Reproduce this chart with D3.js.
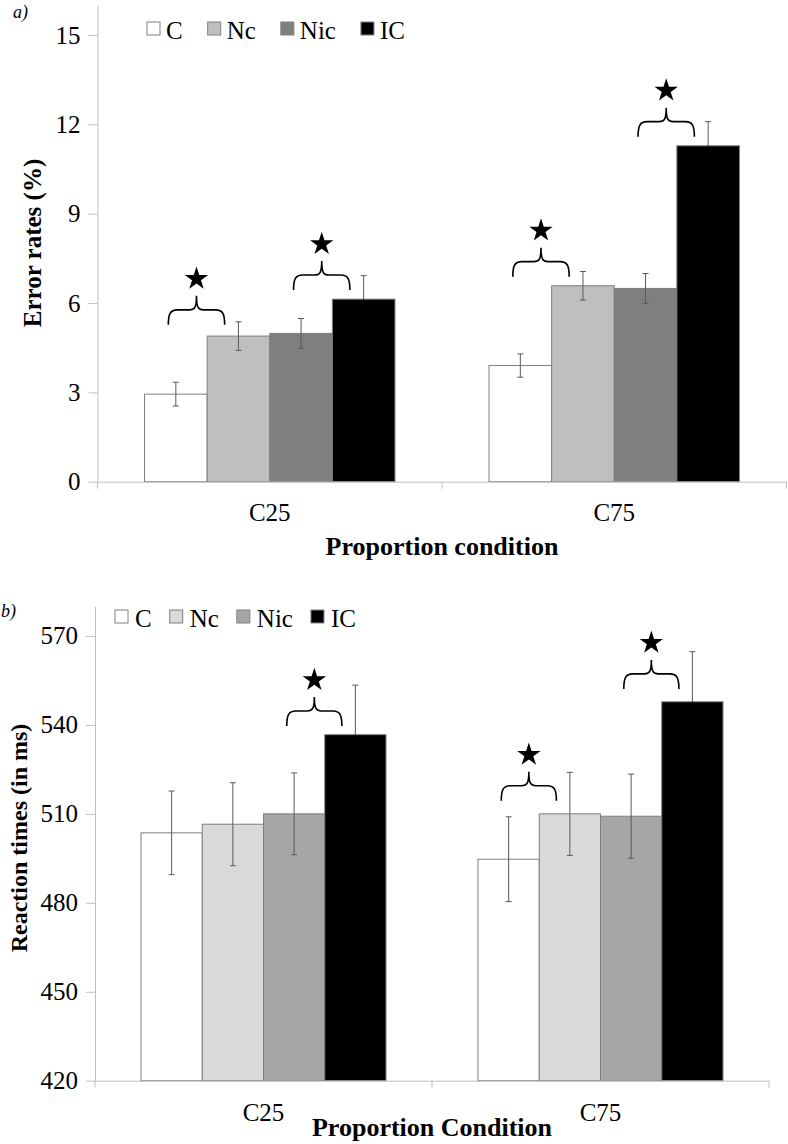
<!DOCTYPE html>
<html>
<head>
<meta charset="utf-8">
<script src="https://cdn.jsdelivr.net/npm/d3@7"></script>
<style>
  html, body { margin: 0; padding: 0; background: #fff; }
  svg { display: block; }
  text { font-family: "Liberation Serif", "Times New Roman", serif; fill: #000; }
</style>
</head>
<body>
<svg id="chart" width="788" height="1144"></svg>
<script>
// ---------- DATA ----------
const categories = ["C25", "C75"];
const series = ["C", "Nc", "Nic", "IC"];

// Panel a: error rates (%)
const errMeansC25 = [2.94, 4.89, 4.98, 6.13];
const errMeansC75 = [3.90, 6.58, 6.49, 11.28];
const errSeC25 = [0.40, 0.48, 0.50, 0.79];
const errSeC75 = [0.39, 0.48, 0.50, 0.81];
const errTicks = [0, 3, 6, 9, 12, 15];
// significance brackets: [category, from series, to series, bracket level]
const errBrackets = [
  ["C25", "C", "Nc", 5.77],
  ["C25", "Nic", "IC", 6.94],
  ["C75", "C", "Nc", 7.39],
  ["C75", "Nic", "IC", 12.09]
];

// Panel b: reaction times (ms)
const rtMeansC25 = [503.6, 506.5, 510.0, 536.7];
const rtMeansC75 = [494.7, 510.0, 509.2, 547.8];
const rtSeC25 = [14.1, 14.0, 13.8, 16.7];
const rtSeC75 = [14.3, 14.0, 14.2, 16.9];
const rtTicks = [420, 450, 480, 510, 540, 570];
const rtBrackets = [
  ["C25", "Nic", "IC", 544.7],
  ["C75", "C", "Nc", 519.5],
  ["C75", "Nic", "IC", 557.2]
];

// ---------- STYLE ----------
const colorsA = ["#ffffff", "#bfbfbf", "#7f7f7f", "#000000"];
const colorsB = ["#ffffff", "#d9d9d9", "#a6a6a6", "#000000"];
const axisColor = "#bfbfbf";
const barStroke = "#7f7f7f";
const errColor = "#595959";
const serif = "Liberation Serif, Times New Roman, serif";

const svg = d3.select("#chart");
svg.append("rect").attr("width", 788).attr("height", 1144).attr("fill", "#fff");

function bracePath(x1, x2, yT) {
  const h = 15, p = 14, xm = (x1 + x2) / 2;
  return `M${x1},${yT + h} C${x1},${yT + 4} ${x1 + 2},${yT} ${x1 + 9},${yT}` +
         ` L${xm - 7},${yT} C${xm - 2},${yT} ${xm},${yT - 2} ${xm},${yT - p}` +
         ` C${xm},${yT - 2} ${xm + 2},${yT} ${xm + 7},${yT}` +
         ` L${x2 - 9},${yT} C${x2 - 2},${yT} ${x2},${yT + 4} ${x2},${yT + h}`;
}

function drawPanel(o) {
  const g = svg.append("g");
  const x = d3.scaleBand().domain(categories).range([o.x0, o.x1]);
  const groupW = x.bandwidth() * 0.727;
  const xs = d3.scaleBand().domain(series).range([0, groupW]);
  const off = (x.bandwidth() - groupW) / 2;
  const y = d3.scaleLinear().domain(o.domain).range(o.yRange);
  const bx = (c, s) => x(c) + off + xs(s);
  const bc = (c, s) => bx(c, s) + xs.bandwidth() / 2;

  const data = categories.flatMap((c, ci) =>
    series.map((s, si) => ({ c, s, si, v: o.means[ci][si], e: o.ses[ci][si] })));

  // bars
  g.selectAll("rect.bar").data(data).join("rect")
    .attr("class", "bar")
    .attr("x", d => bx(d.c, d.s))
    .attr("y", d => y(d.v))
    .attr("width", xs.bandwidth())
    .attr("height", d => y(o.domain[0]) - y(d.v))
    .attr("fill", d => o.colors[d.si])
    .attr("stroke", barStroke)
    .attr("stroke-width", 1);

  // error bars
  const lowColor = d => o.colors[d.si] === "#000000" ? "#000" : errColor;
  const eg = g.selectAll("g.err").data(data).join("g").attr("class", "err")
    .attr("fill", "none").attr("stroke-width", 1);
  eg.append("line")
    .attr("x1", d => bc(d.c, d.s)).attr("x2", d => bc(d.c, d.s))
    .attr("y1", d => y(d.v)).attr("y2", d => y(d.v + d.e))
    .attr("stroke", errColor);
  eg.append("line")
    .attr("x1", d => bc(d.c, d.s)).attr("x2", d => bc(d.c, d.s))
    .attr("y1", d => y(d.v)).attr("y2", d => y(d.v - d.e))
    .attr("stroke", lowColor);
  eg.append("line")
    .attr("x1", d => bc(d.c, d.s) - 3).attr("x2", d => bc(d.c, d.s) + 3)
    .attr("y1", d => y(d.v + d.e)).attr("y2", d => y(d.v + d.e))
    .attr("stroke", errColor);
  eg.append("line")
    .attr("x1", d => bc(d.c, d.s) - 3).attr("x2", d => bc(d.c, d.s) + 3)
    .attr("y1", d => y(d.v - d.e)).attr("y2", d => y(d.v - d.e))
    .attr("stroke", lowColor);

  // y axis
  const ya = g.append("g").attr("transform", `translate(${o.x0},0)`)
    .call(d3.axisLeft(y).tickValues(o.ticks).tickSize(9).tickSizeOuter(0).tickPadding(8));
  ya.attr("font-family", serif);
  ya.select(".domain").attr("stroke", axisColor);
  ya.selectAll(".tick line").attr("stroke", axisColor);
  ya.selectAll(".tick text").attr("font-size", 25).attr("fill", "#000");

  // x axis
  const xa = g.append("g").attr("transform", `translate(0,${o.yRange[0]})`)
    .call(d3.axisBottom(x).tickSize(0).tickSizeOuter(0).tickPadding(0));
  xa.attr("font-family", serif);
  xa.select(".domain").attr("stroke", axisColor);
  xa.selectAll(".tick text").attr("font-size", 25).attr("fill", "#000")
    .attr("dy", null).attr("y", o.catDy);
  const bounds = [x.range()[0], ...categories.slice(1).map(c => x(c)), x.range()[1]];
  xa.selectAll("line.bound").data(bounds).join("line").attr("class", "bound")
    .attr("x1", d => d).attr("x2", d => d).attr("y1", 0).attr("y2", 7)
    .attr("stroke", axisColor);

  // axis titles
  g.append("text").attr("x", (o.x0 + o.x1) / 2).attr("y", o.xTitleY)
    .attr("text-anchor", "middle").attr("font-size", 26).attr("font-weight", "bold")
    .text(o.xTitle);
  g.append("text")
    .attr("transform", `translate(${o.yTitleX},${o.yTitleCy}) rotate(-90)`)
    .attr("text-anchor", "middle").attr("font-size", o.yTitleSize).attr("font-weight", "bold")
    .text(o.yTitle);

  // panel tag
  g.append("text").attr("x", o.tagX).attr("y", o.tagY)
    .attr("font-size", 18).attr("font-style", "italic").text(o.tag);

  // brackets + stars
  const bw = xs.bandwidth();
  o.brackets.forEach(([c, s1, s2, lvl]) => {
    const x1 = bc(c, s1) - 0.12 * bw, x2 = bc(c, s2) - 0.22 * bw;
    const yT = y(lvl);
    g.append("path").attr("d", bracePath(x1, x2, yT))
      .attr("fill", "none").attr("stroke", "#000").attr("stroke-width", 1.6);
    g.append("path").attr("d", d3.symbol(d3.symbolStar, 170)())
      .attr("transform", `translate(${(x1 + x2) / 2},${yT - 14 - 17})`)
      .attr("fill", "#000");
  });

  // legend
  const lg = g.append("g");
  let cx = o.legX;
  series.forEach((s, i) => {
    lg.append("rect").attr("x", cx).attr("y", o.legBase - 17).attr("width", 13).attr("height", 13)
      .attr("fill", o.colors[i]).attr("stroke", barStroke).attr("stroke-width", 1);
    const t = lg.append("text").attr("x", cx + 13 + o.legTextGap).attr("y", o.legBase)
      .attr("font-size", 25).text(s);
    cx = cx + 13 + o.legTextGap + t.node().getComputedTextLength() + o.legGap;
  });
}

drawPanel({
  x0: 97.5, x1: 786.5, domain: [0, 16], yRange: [481.7, 481.7 - 16 * 29.78],
  means: [errMeansC25, errMeansC75], ses: [errSeC25, errSeC75], ticks: errTicks,
  colors: colorsA, brackets: errBrackets,
  catDy: 39, xTitle: "Proportion condition", xTitleY: 555,
  yTitle: "Error rates (%)", yTitleX: 41, yTitleCy: 243, yTitleSize: 25,
  tag: "a)", tagX: 13, tagY: 18,
  legX: 147, legBase: 39, legTextGap: 6, legGap: 25
});

drawPanel({
  x0: 95, x1: 769, domain: [420, 580], yRange: [1080.7, 1080.7 - 160 * 2.965],
  means: [rtMeansC25, rtMeansC75], ses: [rtSeC25, rtSeC75], ticks: rtTicks,
  colors: colorsB, brackets: rtBrackets,
  catDy: 40, xTitle: "Proportion Condition", xTitleY: 1136,
  yTitle: "Reaction times (in ms)", yTitleX: 27, yTitleCy: 838, yTitleSize: 24,
  tag: "b)", tagX: 1, tagY: 617,
  legX: 115, legBase: 627, legTextGap: 7, legGap: 18
});
</script>
</body>
</html>
